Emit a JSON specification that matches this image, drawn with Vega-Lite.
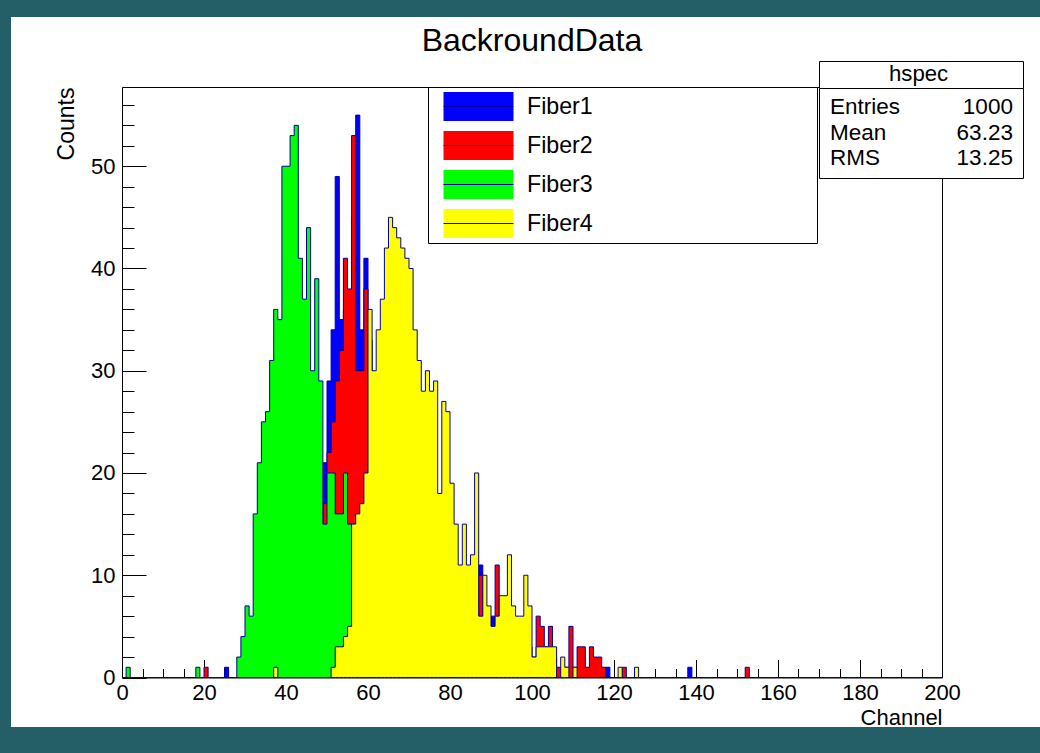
{
  "$schema": "https://vega.github.io/schema/vega-lite/v6.json",
  "width": 1029,
  "height": 710,
  "autosize": {"type": "none"},
  "padding": {"left": 11, "top": 17, "right": 0, "bottom": 26},
  "background": "#245f68",
  "view": {"fill": "white", "stroke": null},
  "title": {"text": "BackroundData", "font": "Liberation Sans", "fontSize": 32, "fontWeight": "normal", "color": "black", "anchor": "middle", "frame": "group", "baseline": "alphabetic", "offset": -33, "dx": 6.5, "dy": 32.5},
  "datasets": {
    "f1": [{"x":0,"n":0},{"x":25,"n":1},{"x":26,"n":0},{"x":44,"n":2},{"x":45,"n":3},{"x":46,"n":5},{"x":47,"n":8},{"x":48,"n":12},{"x":49,"n":21},{"x":50,"n":29},{"x":51,"n":34},{"x":52,"n":49},{"x":53,"n":35},{"x":54,"n":36},{"x":55,"n":33},{"x":56,"n":45},{"x":57,"n":55},{"x":58,"n":34},{"x":59,"n":41},{"x":60,"n":33},{"x":61,"n":27},{"x":62,"n":28},{"x":63,"n":30},{"x":64,"n":31},{"x":65,"n":28},{"x":66,"n":26},{"x":67,"n":24},{"x":68,"n":22},{"x":69,"n":20},{"x":70,"n":18},{"x":71,"n":16},{"x":72,"n":14},{"x":73,"n":13},{"x":74,"n":12},{"x":75,"n":11},{"x":76,"n":10},{"x":77,"n":9},{"x":78,"n":8},{"x":79,"n":8},{"x":80,"n":7},{"x":81,"n":6},{"x":82,"n":6},{"x":83,"n":5},{"x":84,"n":5},{"x":85,"n":4},{"x":86,"n":4},{"x":87,"n":11},{"x":88,"n":3},{"x":89,"n":3},{"x":90,"n":6},{"x":91,"n":3},{"x":92,"n":2},{"x":93,"n":2},{"x":94,"n":2},{"x":95,"n":1},{"x":96,"n":1},{"x":97,"n":0},{"x":118,"n":1},{"x":119,"n":0},{"x":138,"n":1},{"x":139,"n":0},{"x":200,"n":0}],
    "f2": [{"x":0,"n":0},{"x":20,"n":1},{"x":21,"n":0},{"x":41,"n":1},{"x":42,"n":2},{"x":43,"n":3},{"x":44,"n":4},{"x":45,"n":5},{"x":46,"n":7},{"x":47,"n":9},{"x":48,"n":12},{"x":49,"n":17},{"x":50,"n":22},{"x":51,"n":25},{"x":52,"n":29},{"x":53,"n":32},{"x":54,"n":41},{"x":55,"n":38},{"x":56,"n":53},{"x":57,"n":30},{"x":58,"n":30},{"x":59,"n":38},{"x":60,"n":30},{"x":61,"n":26},{"x":62,"n":28},{"x":63,"n":27},{"x":64,"n":25},{"x":65,"n":23},{"x":66,"n":21},{"x":67,"n":19},{"x":68,"n":17},{"x":69,"n":15},{"x":70,"n":14},{"x":71,"n":12},{"x":72,"n":11},{"x":73,"n":10},{"x":74,"n":9},{"x":75,"n":8},{"x":76,"n":8},{"x":77,"n":7},{"x":78,"n":6},{"x":79,"n":6},{"x":80,"n":5},{"x":81,"n":5},{"x":82,"n":4},{"x":83,"n":4},{"x":84,"n":4},{"x":85,"n":3},{"x":86,"n":3},{"x":87,"n":10},{"x":88,"n":6},{"x":89,"n":5},{"x":90,"n":4},{"x":91,"n":11},{"x":92,"n":4},{"x":93,"n":5},{"x":94,"n":6},{"x":95,"n":4},{"x":96,"n":3},{"x":97,"n":3},{"x":98,"n":4},{"x":99,"n":3},{"x":100,"n":2},{"x":101,"n":6},{"x":102,"n":5},{"x":103,"n":3},{"x":104,"n":5},{"x":105,"n":2},{"x":106,"n":1},{"x":107,"n":1},{"x":108,"n":1},{"x":109,"n":5},{"x":110,"n":1},{"x":111,"n":3},{"x":112,"n":3},{"x":113,"n":1},{"x":114,"n":3},{"x":115,"n":2},{"x":116,"n":2},{"x":117,"n":1},{"x":118,"n":0},{"x":122,"n":1},{"x":123,"n":0},{"x":152,"n":1},{"x":153,"n":0},{"x":200,"n":0}],
    "f3": [{"x":0,"n":0},{"x":1,"n":1},{"x":2,"n":0},{"x":18,"n":1},{"x":19,"n":0},{"x":28,"n":2},{"x":29,"n":4},{"x":30,"n":7},{"x":31,"n":6},{"x":32,"n":16},{"x":33,"n":21},{"x":34,"n":25},{"x":35,"n":26},{"x":36,"n":31},{"x":37,"n":36},{"x":38,"n":35},{"x":39,"n":50},{"x":40,"n":50},{"x":41,"n":53},{"x":42,"n":54},{"x":43,"n":41},{"x":44,"n":37},{"x":45,"n":44},{"x":46,"n":30},{"x":47,"n":39},{"x":48,"n":29},{"x":49,"n":15},{"x":50,"n":20},{"x":51,"n":20},{"x":52,"n":16},{"x":53,"n":16},{"x":54,"n":20},{"x":55,"n":15},{"x":56,"n":11},{"x":57,"n":9},{"x":58,"n":7},{"x":59,"n":5},{"x":60,"n":4},{"x":61,"n":3},{"x":62,"n":2},{"x":63,"n":1},{"x":64,"n":1},{"x":65,"n":0},{"x":200,"n":0}],
    "f4": [{"x":0,"n":0},{"x":37,"n":1},{"x":38,"n":0},{"x":51,"n":1},{"x":52,"n":3},{"x":53,"n":3},{"x":54,"n":4},{"x":55,"n":5},{"x":56,"n":15},{"x":57,"n":16},{"x":58,"n":17},{"x":59,"n":20},{"x":60,"n":36},{"x":61,"n":30},{"x":62,"n":34},{"x":63,"n":37},{"x":64,"n":42},{"x":65,"n":45},{"x":66,"n":44},{"x":67,"n":43},{"x":68,"n":42},{"x":69,"n":41},{"x":70,"n":40},{"x":71,"n":34},{"x":72,"n":31},{"x":73,"n":28},{"x":74,"n":30},{"x":75,"n":28},{"x":76,"n":29},{"x":77,"n":18},{"x":78,"n":27},{"x":79,"n":26},{"x":80,"n":19},{"x":81,"n":15},{"x":82,"n":11},{"x":83,"n":15},{"x":84,"n":11},{"x":85,"n":12},{"x":86,"n":20},{"x":87,"n":6},{"x":88,"n":10},{"x":89,"n":7},{"x":90,"n":5},{"x":91,"n":6},{"x":92,"n":8},{"x":93,"n":8},{"x":94,"n":12},{"x":95,"n":7},{"x":96,"n":6},{"x":97,"n":6},{"x":98,"n":10},{"x":99,"n":7},{"x":100,"n":2},{"x":101,"n":3},{"x":102,"n":3},{"x":103,"n":3},{"x":104,"n":3},{"x":105,"n":3},{"x":106,"n":0},{"x":107,"n":2},{"x":108,"n":1},{"x":109,"n":0},{"x":110,"n":1},{"x":111,"n":0},{"x":121,"n":1},{"x":122,"n":0},{"x":125,"n":1},{"x":126,"n":0},{"x":200,"n":0}],
    "hs": [{"t": "hspec"}],
    "stats": [{"k": "Entries", "v": "1000"}, {"k": "Mean", "v": "63.23"}, {"k": "RMS", "v": "13.25"}]
  },
  "layer": [
    {
      "data": {"name": "f1"},
      "mark": {"type": "area", "interpolate": "step-after", "stroke": "#000099", "strokeWidth": 1},
      "encoding": {
        "x": {"field": "x", "type": "quantitative",
          "scale": {"domain": [0, 200], "range": [111, 931], "nice": false, "zero": false},
          "axis": {"orient": "bottom", "offset": -49.5, "values": [0,20,40,60,80,100,120,140,160,180,200], "tickSize": -18, "labelFontSize": 22, "labelPadding": 22.5, "labelOverlap": false, "title": "Channel", "titleFontSize": 22, "titleFontWeight": "normal", "titleX": 931, "titleY": 47, "titleAlign": "right", "titleBaseline": "alphabetic", "titleAngle": 0}},
        "y": {"field": "n", "type": "quantitative", "stack": null,
          "scale": {"domain": [0, 57.75], "range": [660.5, 70], "nice": false},
          "axis": {"orient": "left", "offset": -111, "values": [0,10,20,30,40,50], "tickSize": -24, "labelFontSize": 22, "labelPadding": 31, "title": "Counts", "titleFontSize": 23, "titleFontWeight": "normal", "titleX": -49, "titleY": 70, "titleAlign": "right", "titleAngle": -90, "titleBaseline": "alphabetic"}},
        "fill": {"datum": "Fiber1", "type": "nominal",
          "scale": {"domain": ["Fiber1", "Fiber2", "Fiber3", "Fiber4"], "range": ["#0000ff", "#ff0000", "#00ff00", "#ffff00"]},
          "legend": {"orient": "none", "legendX": 417, "legendY": 70, "title": null, "direction": "vertical", "padding": 5, "strokeColor": "black", "fillColor": "white",
            "symbolType": "M-1,0H1V0.414H-1V-0.414H1V0Z", "symbolSize": 4900, "symbolStrokeColor": "#000099", "symbolStrokeWidth": 1, "symbolDash": [70, 1000], "symbolOffset": 10, "symbolOpacity": 1,
            "clipHeight": 29, "rowPadding": 10, "labelOffset": 13, "labelFontSize": 23.2, "labelLimit": 600,
            "labelExpr": "pad(datum.label, 40, '\u00a0') + '\u200b'"}}
      }
    },
    {
      "data": {"name": "f2"},
      "mark": {"type": "area", "interpolate": "step-after", "stroke": "#000099", "strokeWidth": 1},
      "encoding": {
        "x": {"field": "x", "type": "quantitative",
          "axis": {"orient": "bottom", "offset": -49.5, "values": [5,10,15,25,30,35,45,50,55,65,70,75,85,90,95,105,110,115,125,130,135,145,150,155,165,170,175,185,190,195], "tickSize": -9, "labels": false, "domain": false, "title": null}},
        "y": {"field": "n", "type": "quantitative", "stack": null,
          "axis": {"orient": "left", "offset": -111, "values": [2,4,6,8,12,14,16,18,22,24,26,28,32,34,36,38,42,44,46,48,52,54,56], "tickSize": -12, "labels": false, "domain": false, "title": null}},
        "fill": {"datum": "Fiber2", "type": "nominal"}
      }
    },
    {
      "data": {"name": "f3"},
      "mark": {"type": "area", "interpolate": "step-after", "stroke": "#000099", "strokeWidth": 1},
      "encoding": {
        "x": {"field": "x", "type": "quantitative",
          "axis": {"orient": "top", "offset": -70, "ticks": false, "labels": false, "domain": true, "title": null}},
        "y": {"field": "n", "type": "quantitative", "stack": null,
          "axis": {"orient": "right", "offset": -98, "ticks": false, "labels": false, "domain": true, "title": null}},
        "fill": {"datum": "Fiber3", "type": "nominal"}
      }
    },
    {
      "data": {"name": "f4"},
      "mark": {"type": "area", "interpolate": "step-after", "stroke": "#000099", "strokeWidth": 1},
      "encoding": {
        "x": {"field": "x", "type": "quantitative", "axis": null},
        "y": {"field": "n", "type": "quantitative", "stack": null, "axis": null},
        "fill": {"datum": "Fiber4", "type": "nominal"}
      }
    },
    {
      "data": {"name": "hs"},
      "mark": {"type": "point", "opacity": 0},
      "encoding": {
        "stroke": {"field": "t", "type": "nominal",
          "legend": {"orient": "none", "legendX": 808, "legendY": 44, "title": null, "padding": 2, "strokeColor": "black", "fillColor": "white",
            "symbolSize": 0, "symbolOpacity": 0, "symbolStrokeWidth": 0, "labelOffset": -22, "labelFontSize": 22.2, "labelLimit": 600,
            "labelExpr": "'\u200b' + pad(datum.label, 27, '\u00a0', 'center') + '\u2009\u200b'"}}
      }
    },
    {
      "data": {"name": "stats"},
      "mark": {"type": "point", "opacity": 0},
      "encoding": {
        "strokeDash": {"field": "k", "type": "nominal", "sort": null,
          "legend": {"orient": "none", "legendX": 808, "legendY": 71, "title": null, "padding": 8, "strokeColor": "black", "fillColor": "white",
            "symbolType": "M-11,0H176", "symbolSize": 4, "symbolOpacity": 0, "symbolStrokeColor": "white", "symbolStrokeWidth": 0, "symbolOffset": 0,
            "rowPadding": 2.5, "labelOffset": -19.5, "labelFontSize": 22.5, "labelLimit": 600}}
      }
    },
    {
      "data": {"name": "stats"},
      "mark": {"type": "point", "opacity": 0},
      "encoding": {
        "color": {"field": "v", "type": "nominal", "sort": null,
          "legend": {"orient": "none", "legendX": 915.1, "legendY": 71, "title": null, "padding": 8,
            "symbolSize": 0, "symbolOpacity": 0, "symbolStrokeWidth": 0, "rowPadding": 2.5, "labelOffset": 0, "labelFontSize": 22.5, "labelLimit": 600,
            "labelExpr": "'\u200b' + pad(datum.label, 5, '\u00a0', 'left')"}}
      }
    }
  ],
  "resolve": {"axis": {"x": "independent", "y": "independent"}},
  "config": {
    "axis": {"grid": false, "labelFont": "Liberation Sans", "titleFont": "Liberation Sans", "labelColor": "black", "titleColor": "black", "tickColor": "black", "tickWidth": 1, "domainColor": "black", "domainWidth": 1, "labelFlush": false},
    "legend": {"labelFont": "Liberation Sans", "labelColor": "black", "titleFont": "Liberation Sans"}
  }
}
